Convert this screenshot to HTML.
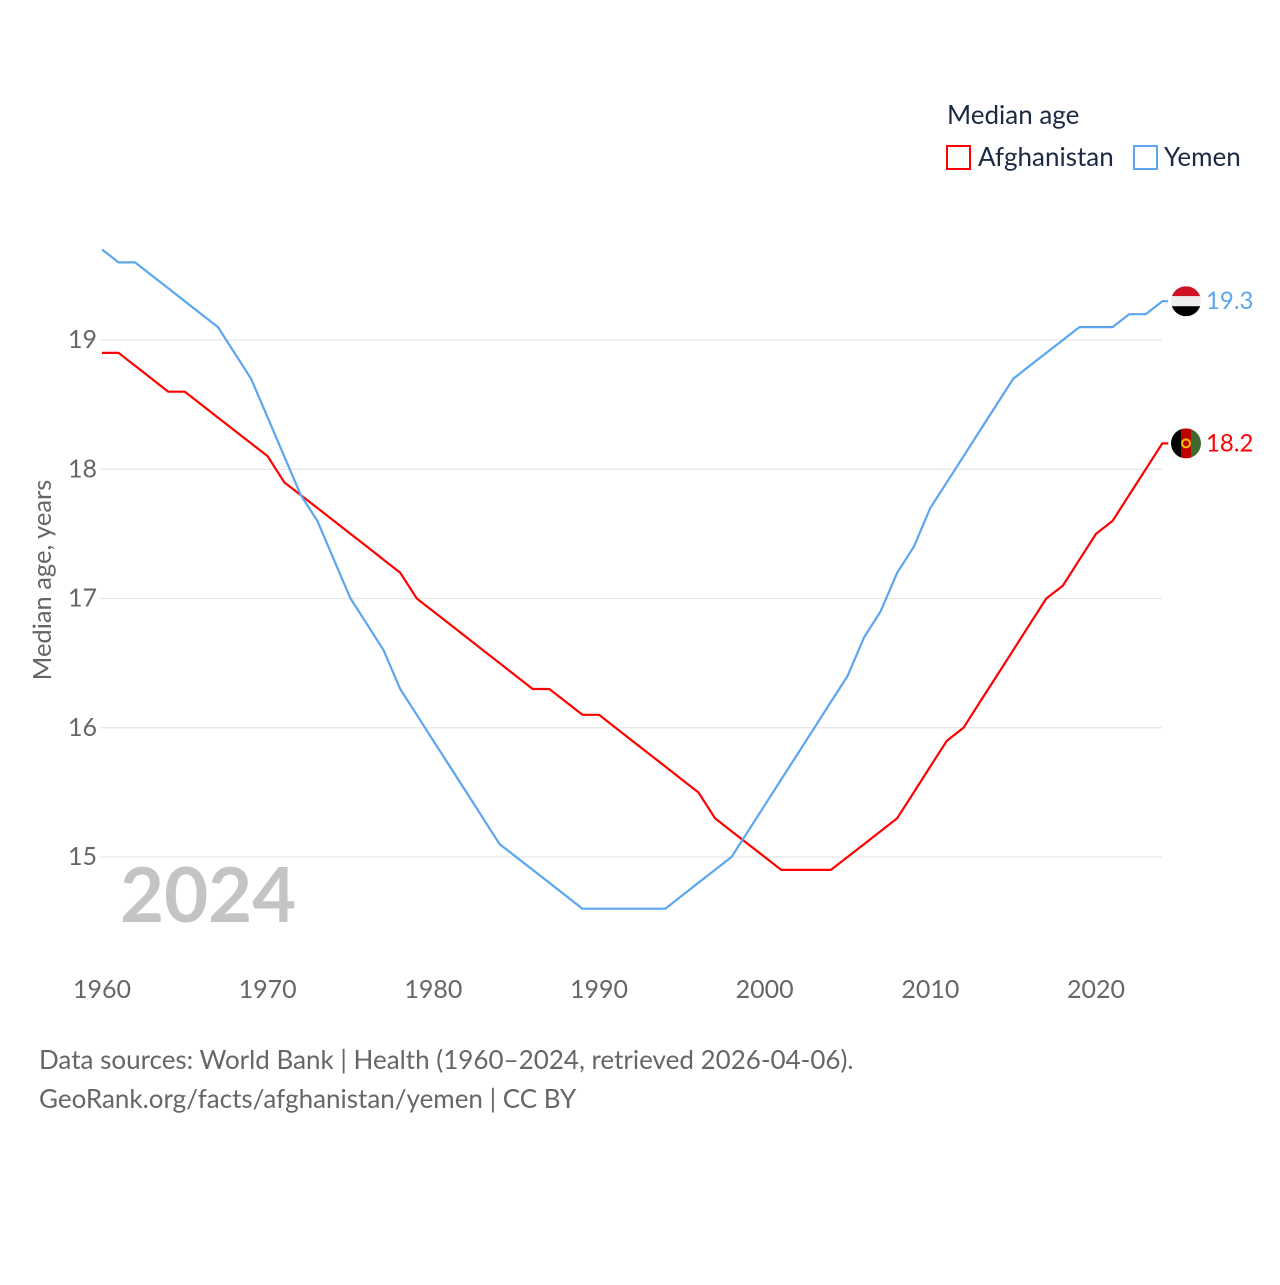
<!DOCTYPE html>
<html><head><meta charset="utf-8"><style>
body{margin:0;background:#fff;width:1280px;height:1280px;overflow:hidden;font-family:"Liberation Sans",sans-serif}
</style></head><body>
<svg id="chart" width="1280" height="1280" xmlns="http://www.w3.org/2000/svg" font-family="Lato,'Liberation Sans',sans-serif">
<g id="grid"></g>
<g id="yticks"></g>
<g id="xticks"></g>
<text x="0" y="0" transform="translate(51,580) rotate(-90)" text-anchor="middle" font-size="25.5" fill="#666">Median age, years</text>
<text x="120" y="922" font-size="76" font-weight="bold" fill="#c4c4c4">2024</text>
<g id="series"></g>
<g>
<text x="947" y="124" font-size="26" fill="#1a2a44">Median age</text>
<rect x="947" y="146" width="23" height="23" fill="none" stroke="#f00" stroke-width="2"/>
<text x="978" y="166" font-size="26" fill="#1a2a44">Afghanistan</text>
<rect x="1134" y="146" width="23" height="23" fill="none" stroke="#5ba6ee" stroke-width="2"/>
<text x="1164" y="166" font-size="26" fill="#1a2a44">Yemen</text>
</g>
<g font-size="26" fill="#666">
<text x="39" y="1069">Data sources: World Bank | Health (1960–2024, retrieved 2026-04-06).</text>
<text x="39" y="1108">GeoRank.org/facts/afghanistan/yemen | CC BY</text>
</g>
</svg>
<script>
const years=[];for(let y=1960;y<=2024;y++)years.push(y);
const afghanistan=[18.9,18.9,18.8,18.7,18.6,18.6,18.5,18.4,18.3,18.2,18.1,17.9,17.8,17.7,17.6,17.5,17.4,17.3,17.2,17.0,16.9,16.8,16.7,16.6,16.5,16.4,16.3,16.3,16.2,16.1,16.1,16.0,15.9,15.8,15.7,15.6,15.5,15.3,15.2,15.1,15.0,14.9,14.9,14.9,14.9,15.0,15.1,15.2,15.3,15.5,15.7,15.9,16.0,16.2,16.4,16.6,16.8,17.0,17.1,17.3,17.5,17.6,17.8,18.0,18.2];
const yemen=[19.7,19.6,19.6,19.5,19.4,19.3,19.2,19.1,18.9,18.7,18.4,18.1,17.8,17.6,17.3,17.0,16.8,16.6,16.3,16.1,15.9,15.7,15.5,15.3,15.1,15.0,14.9,14.8,14.7,14.6,14.6,14.6,14.6,14.6,14.6,14.7,14.8,14.9,15.0,15.2,15.4,15.6,15.8,16.0,16.2,16.4,16.7,16.9,17.2,17.4,17.7,17.9,18.1,18.3,18.5,18.7,18.8,18.9,19.0,19.1,19.1,19.1,19.2,19.2,19.3];
const yTicks=[15,16,17,18,19];
const xTicks=[1960,1970,1980,1990,2000,2010,2020];
const NS="http://www.w3.org/2000/svg";
const xs=y=>102+(y-1960)*(994/60);
const ys=v=>857-(v-15)*129.25;
function mk(tag,attrs,parent,txt){const e=document.createElementNS(NS,tag);for(const k in attrs)e.setAttribute(k,attrs[k]);if(txt!==undefined)e.textContent=txt;parent.appendChild(e);return e;}
const grid=document.getElementById('grid'),yt=document.getElementById('yticks'),xt=document.getElementById('xticks'),ser=document.getElementById('series');
yTicks.forEach(v=>{
 const l=mk('line',{x1:100,x2:1162,y1:ys(v),y2:ys(v),stroke:'#e6e6e6','stroke-width':1.3},grid);
 
 
 const t=mk('text',{x:97,y:ys(v)+8,'text-anchor':'end','font-size':25,fill:'#666'},yt,String(v));
 
 
});
xTicks.forEach(v=>{
 const t=mk('text',{x:xs(v),y:998,'text-anchor':'middle','font-size':25,fill:'#666'},xt,String(v));
 
 
});
function drawSeries(vals,color,name){
 let d=vals.map((v,i)=>(i?'L':'M')+xs(years[i]).toFixed(1)+','+ys(v).toFixed(1)).join(' ');
 const last=vals[vals.length-1];
 d+=' L'+(xs(years[years.length-1])+6).toFixed(1)+','+ys(last).toFixed(1);
 const p=mk('path',{d:d,fill:'none',stroke:color,'stroke-width':2.2,'stroke-linejoin':'round'},ser);
 
 
 const lbl=mk('text',{x:1206,y:ys(last)+8,'font-size':24,fill:color},ser,last.toFixed(1));
 
 
 return ys(last);
}
const ay=drawSeries(afghanistan,'#ff0000','afghanistan');
const yy=drawSeries(yemen,'#5ba6ee','yemen');
const fy=mk('g',{},ser);


const cp=mk('clipPath',{id:'cy'},fy);mk('circle',{cx:1186,cy:yy,r:15},cp);
const gy=mk('g',{'clip-path':'url(#cy)'},fy);
mk('rect',{x:1171,y:yy-15,width:30,height:10,fill:'#ce1126'},gy);
mk('rect',{x:1171,y:yy-5,width:30,height:10,fill:'#eee'},gy);
mk('rect',{x:1171,y:yy+5,width:30,height:10,fill:'#000'},gy);
const fa=mk('g',{},ser);


const cp2=mk('clipPath',{id:'ca'},fa);mk('circle',{cx:1186,cy:ay,r:15},cp2);
const ga=mk('g',{'clip-path':'url(#ca)'},fa);
mk('rect',{x:1171,y:ay-15,width:10,height:30,fill:'#000'},ga);
mk('rect',{x:1181,y:ay-15,width:10,height:30,fill:'#be0000'},ga);
mk('rect',{x:1191,y:ay-15,width:10,height:30,fill:'#3e6b2e'},ga);
mk('circle',{cx:1186,cy:ay,r:4,fill:'none',stroke:'#f2c200','stroke-width':2},ga);
</script>
</body></html>
